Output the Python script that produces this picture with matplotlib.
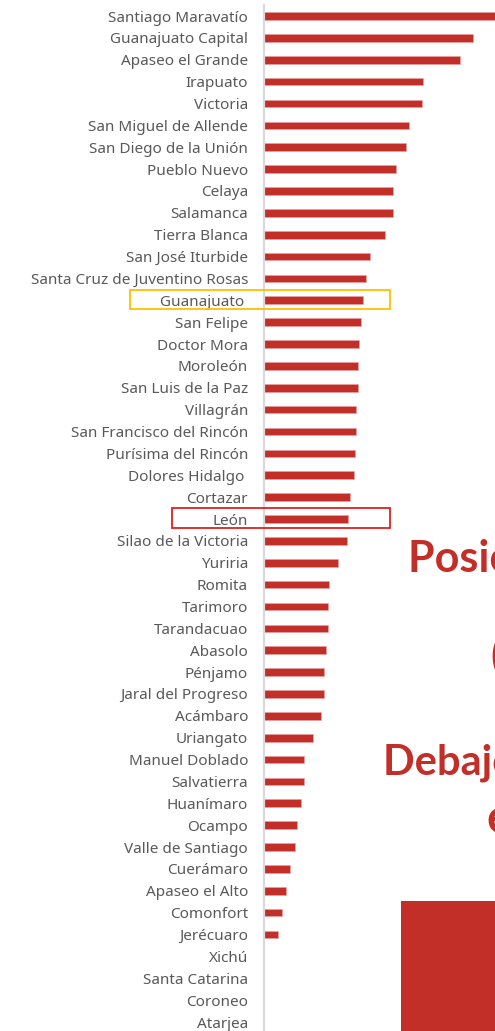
import matplotlib
matplotlib.use("Agg")
import matplotlib.pyplot as plt
from matplotlib.patches import Rectangle
from matplotlib import transforms

municipios = [
    "Santiago Maravatío", "Guanajuato Capital", "Apaseo el Grande", "Irapuato",
    "Victoria", "San Miguel de Allende", "San Diego de la Unión", "Pueblo Nuevo",
    "Celaya", "Salamanca", "Tierra Blanca", "San José Iturbide",
    "Santa Cruz de Juventino Rosas", "Guanajuato ", "San Felipe", "Doctor Mora",
    "Moroleón", "San Luis de la Paz", "Villagrán", "San Francisco del Rincón",
    "Purísima del Rincón", "Dolores Hidalgo ", "Cortazar", "León",
    "Silao de la Victoria", "Yuriria", "Romita", "Tarimoro", "Tarandacuao",
    "Abasolo", "Pénjamo", "Jaral del Progreso", "Acámbaro", "Uriangato",
    "Manuel Doblado", "Salvatierra", "Huanímaro", "Ocampo", "Valle de Santiago",
    "Cuerámaro", "Apaseo el Alto", "Comonfort", "Jerécuaro", "Xichú",
    "Santa Catarina", "Coroneo", "Atarjea",
]
valores = [
    24.5, 20.9, 19.6, 15.9, 15.8, 14.5, 14.2, 13.2, 12.9, 12.9, 12.1, 10.6,
    10.2, 9.9, 9.7, 9.5, 9.4, 9.4, 9.2, 9.2, 9.1, 9.0, 8.6, 8.4, 8.3, 7.4,
    6.5, 6.4, 6.4, 6.2, 6.0, 6.0, 5.7, 4.9, 4.0, 4.0, 3.7, 3.3, 3.1, 2.6,
    2.2, 1.8, 1.4, 0, 0, 0, 0,
]
estado = "Guanajuato "
ciudad = "León"

rojo = "#C22E28"
gris = "#595959"

W, H = 495, 1031
fig = plt.figure(figsize=(W / 100, H / 100), dpi=100)
ax = fig.add_axes([264 / W, 0, 1 - 264 / W, 1])

pos = list(range(len(municipios)))
ax.barh(pos, valores, height=0.35, color=rojo, edgecolor="#E8A3A0", linewidth=0.4)
ax.set_xlim(0, 23.1)
paso = 21.87
ax.set_ylim((H - 16) / paso, -16 / paso)

ax.set_yticks(pos)
ax.set_yticklabels(municipios, fontsize=11, color=gris, family="Noto Sans")
ax.tick_params(axis="y", length=0, pad=11.5)
ax.set_xticks([])
for s in ["top", "right", "bottom"]:
    ax.spines[s].set_visible(False)
ax.spines["left"].set_color("#D9D9D9")
ax.spines["left"].set_linewidth(1.6)
ax.spines["left"].set_bounds(-0.5, (H - 16) / paso)

# recuadros de Guanajuato y León
trans = transforms.blended_transform_factory(fig.transFigure, ax.transData)
i_gto = municipios.index(estado)
i_leon = municipios.index(ciudad)
fig.add_artist(Rectangle((130 / W, i_gto - 0.48), 260 / W, 0.88, transform=trans,
                         fill=False, edgecolor="#FFC000", linewidth=1.3))
fig.add_artist(Rectangle((172 / W, i_leon - 0.5), 218 / W, 0.92, transform=trans,
                         fill=False, edgecolor="#E0201E", linewidth=1.3))

# texto lateral
fig.text(408 / W, 1 - 572 / H, "Posición de León", color=rojo, fontsize=31,
         fontweight="bold", family="Lato", va="baseline", ha="left")
fig.text(490 / W, 1 - 670 / H, "(24°)", color=rojo, fontsize=31,
         fontweight="bold", family="Lato", va="baseline", ha="left")
fig.text(383 / W, 1 - 775 / H, "Debajo de la media", color=rojo, fontsize=30,
         fontweight="bold", family="Lato", va="baseline", ha="left")
fig.text(486 / W, 1 - 833 / H, "estatal", color=rojo, fontsize=34,
         fontweight="bold", family="Lato", va="baseline", ha="left")

fig.add_artist(Rectangle((401 / W, 0), 1, 1 - 901 / H, transform=fig.transFigure,
                         facecolor=rojo, edgecolor="none"))

fig.savefig("out.png", dpi=100)
